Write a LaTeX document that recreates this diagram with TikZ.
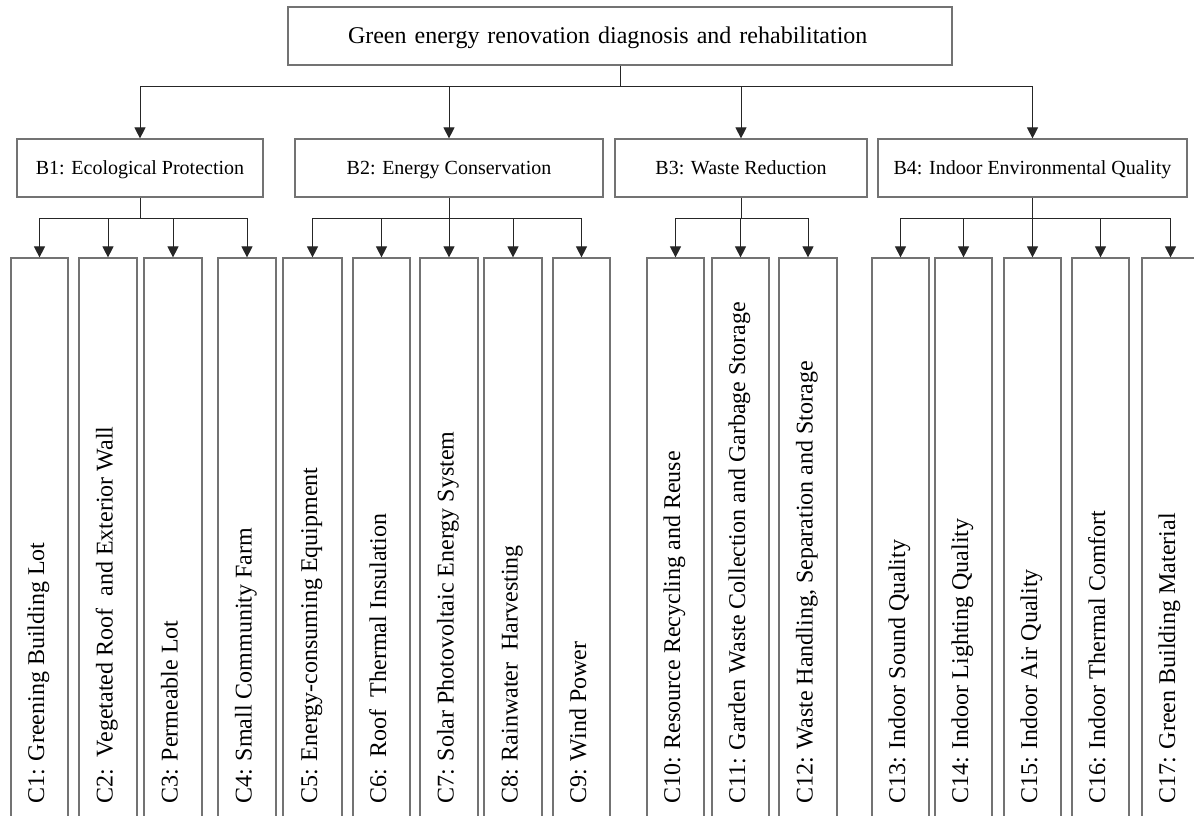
\documentclass[tikz,border=0pt]{standalone}
\usepackage{fontspec}
\setmainfont{Liberation Serif}
\usetikzlibrary{arrows.meta}
\tikzset{
  box/.style={draw=black!55, line width=1.2pt, inner sep=0pt},
  topbox/.style={box, minimum width=664pt, minimum height=58pt, text width=544pt, align=left, text height=19.5pt, text depth=4.5pt, font=\fontsize{24}{28}\selectfont},
  bbox/.style={box, minimum height=58pt, text height=16pt, text depth=3pt, font=\fontsize{20}{24}\selectfont},
  cbox/.style={box, minimum height=602pt},
  conn/.style={draw=black!85, line width=1pt},
  arr/.style={conn, -{Triangle[width=11pt,length=11pt]}},
  ctext/.style={rotate=90, anchor=base west, inner sep=0pt, font=\fontsize{24}{28}\selectfont},
}
\begin{document}
\begin{tikzpicture}[x=1pt,y=-1pt]
\useasboundingbox (0,0) rectangle (1194,816);
\clip (0,0) rectangle (1194,816);
\fill[white] (0,0) rectangle (1194,816);

% top
\node[topbox] (T) at (620,36) {Green energy renovation diagnosis and rehabilitation};

% B level
\node[bbox, minimum width=246pt] (B1) at (140,168) {B1: Ecological Protection};
\node[bbox, minimum width=308pt] (B2) at (449,168) {B2: Energy Conservation};
\node[bbox, minimum width=252pt] (B3) at (741,168) {B3: Waste Reduction};
\node[bbox, minimum width=309pt] (B4) at (1032.5,168) {B4: Indoor Environmental Quality};

% C level boxes
\node[cbox, minimum width=57pt] (C1) at (39.5,559) {};
\node[cbox, minimum width=58pt] (C2) at (108,559) {};
\node[cbox, minimum width=58pt] (C3) at (173,559) {};
\node[cbox, minimum width=58pt] (C4) at (247,559) {};
\node[cbox, minimum width=59pt] (C5) at (312.5,559) {};
\node[cbox, minimum width=57pt] (C6) at (381.5,559) {};
\node[cbox, minimum width=58pt] (C7) at (449,559) {};
\node[cbox, minimum width=58pt] (C8) at (513,559) {};
\node[cbox, minimum width=57pt] (C9) at (581.5,559) {};
\node[cbox, minimum width=57pt] (C10) at (675.5,559) {};
\node[cbox, minimum width=57pt] (C11) at (740.5,559) {};
\node[cbox, minimum width=58pt] (C12) at (808,559) {};
\node[cbox, minimum width=57pt] (C13) at (900.5,559) {};
\node[cbox, minimum width=57pt] (C14) at (963.5,559) {};
\node[cbox, minimum width=57pt] (C15) at (1032.5,559) {};
\node[cbox, minimum width=57pt] (C16) at (1100.5,559) {};
\node[cbox, minimum width=57pt] (C17) at (1170.5,559) {};

% C level texts
\node[ctext] (L1) at (44,804) {C1: Greening Building Lot};
\node[ctext] (L2) at (112.5,804) {C2:\ \ Vegetated Roof\ \ and Exterior Wall};
\node[ctext] (L3) at (177.5,804) {C3: Permeable Lot};
\node[ctext] (L4) at (251.5,804) {C4: Small Community Farm};
\node[ctext] (L5) at (317,804) {C5: Energy-consuming Equipment};
\node[ctext] (L6) at (386,804) {C6:\ \ Roof\ \ Thermal Insulation};
\node[ctext] (L7) at (453.5,804) {C7: Solar Photovoltaic Energy System};
\node[ctext] (L8) at (517.5,804) {C8: Rainwater\ \ Harvesting};
\node[ctext] (L9) at (586,804) {C9: Wind Power};
\node[ctext] (L10) at (680,804) {C10: Resource Recycling and Reuse};
\node[ctext] (L11) at (745,804) {C11: Garden Waste Collection and Garbage Storage};
\node[ctext] (L12) at (812.5,804) {C12: Waste Handling, Separation and Storage};
\node[ctext] (L13) at (905,804) {C13: Indoor Sound Quality};
\node[ctext] (L14) at (968,804) {C14: Indoor Lighting Quality};
\node[ctext] (L15) at (1037,804) {C15: Indoor Air Quality};
\node[ctext] (L16) at (1105,804) {C16: Indoor Thermal Comfort};
\node[ctext] (L17) at (1175,804) {C17: Green Building Material};

% connectors: top to B
\coordinate (tj) at (T.south |- 0,86);
\draw[conn] (T.south) -- (tj);
\draw[conn] (B1.north |- tj) -- (B4.north |- tj);
\foreach \b in {B1,B2,B3,B4} \draw[arr] (\b.north |- tj) -- (\b.north);

% B to C
\foreach \b/\cs in {B1/{C1,C2,C3,C4}, B2/{C5,C6,C7,C8,C9}, B3/{C10,C11,C12}, B4/{C13,C14,C15,C16,C17}} {
  \coordinate (\b j) at (\b.south |- 0,218);
  \draw[conn] (\b.south) -- (\b j);
  \foreach \c in \cs \draw[arr] (\b j) -| (\c.north);
}
\end{tikzpicture}
\end{document}
